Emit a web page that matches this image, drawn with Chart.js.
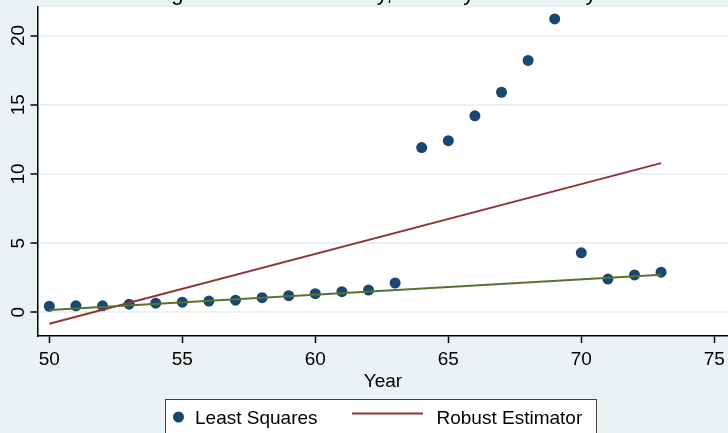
<!DOCTYPE html>
<html>
<head>
<meta charset="utf-8">
<title>Belgian Statistical Survey, Ministry of Economy</title>
<script src="https://cdn.jsdelivr.net/npm/chart.js@4/dist/chart.umd.min.js"></script>
<style>
  html, body { margin: 0; padding: 0; background: #eaf2f3; }
  canvas { display: block; }
</style>
</head>
<body>
<canvas id="c" width="728" height="433"></canvas>
<script>
// International phone calls from Belgium (tens of millions), by year
const years = [50, 51, 52, 53, 54, 55, 56, 57, 58, 59, 60, 61, 62, 63, 64, 65, 66, 67, 68, 69, 70, 71, 72, 73];
const calls = [0.44, 0.47, 0.47, 0.59, 0.66, 0.73, 0.81, 0.88, 1.06, 1.20, 1.35, 1.49, 1.61, 2.12,
               11.90, 12.40, 14.20, 15.90, 18.20, 21.20, 4.30, 2.40, 2.70, 2.90];

// Fitted lines, end points at 1950 and 1973
const fitYears = [50, 73];
const lsFit = [-0.82, 10.78];
const robustFit = [0.17, 2.72];

// Axis ticks
const xTicks = [50, 55, 60, 65, 70, 75];
const yTicks = [0, 5, 10, 15, 20];

const FONT = 'Liberation Sans, Arial, sans-serif';
const BG = '#eaf2f3';

const toPoints = (xs, ys) => xs.map((x, i) => ({ x: x, y: ys[i] }));

// no extra room around the plot for half tick labels
const noScalePadding = s => {
  s.paddingLeft = 0; s.paddingRight = 0; s.paddingTop = 0; s.paddingBottom = 0;
};

const decorations = {
  id: 'decorations',
  beforeDraw(chart) {
    const { ctx, chartArea: a } = chart;
    ctx.save();
    ctx.fillStyle = BG;
    ctx.fillRect(0, 0, chart.width, chart.height);
    ctx.fillStyle = '#ffffff';
    ctx.fillRect(a.left, a.top, chart.width - a.left, a.bottom - a.top);
    ctx.restore();
  },
  afterDraw(chart) {
    const { ctx } = chart;
    const yScale = chart.scales.y;
    ctx.save();
    ctx.fillStyle = '#000';

    // title
    ctx.font = '22px ' + FONT;
    ctx.textAlign = 'center';
    ctx.textBaseline = 'alphabetic';
    ctx.fillText('Belgian Statistical Survey, Ministry of Economy', 368, -0.5);

    // vertical tick labels on the y axis
    ctx.font = '19px ' + FONT;
    yScale.ticks.forEach(t => {
      const py = yScale.getPixelForValue(t.value);
      ctx.save();
      ctx.translate(23.5, py);
      ctx.rotate(-Math.PI / 2);
      ctx.textAlign = 'center';
      ctx.textBaseline = 'alphabetic';
      ctx.fillText(String(t.value), 0, 0);
      ctx.restore();
    });

    // x axis title
    ctx.textAlign = 'center';
    ctx.fillText('Year', 383, 386.5);

    // legend
    ctx.fillStyle = '#ffffff';
    ctx.fillRect(165.5, 399.5, 431, 45);
    ctx.strokeStyle = '#404040';
    ctx.lineWidth = 1;
    ctx.strokeRect(165.5, 399.5, 431, 45);

    ctx.fillStyle = '#1a476f';
    ctx.beginPath();
    ctx.arc(178.5, 417, 5.5, 0, Math.PI * 2);
    ctx.fill();

    ctx.strokeStyle = '#90353b';
    ctx.lineWidth = 2;
    ctx.beginPath();
    ctx.moveTo(352, 413.5);
    ctx.lineTo(423, 413.5);
    ctx.stroke();

    ctx.fillStyle = '#000';
    ctx.textAlign = 'left';
    ctx.fillText('Least Squares', 195, 424);
    ctx.fillText('Robust Estimator', 436.5, 424);
    ctx.restore();
  }
};

new Chart(document.getElementById('c'), {
  type: 'scatter',
  data: {
    datasets: [
      {
        type: 'line',
        label: 'Robust fit',
        data: toPoints(fitYears, robustFit),
        borderColor: '#55752f',
        borderWidth: 2,
        pointRadius: 0,
        fill: false,
        order: 1
      },
      {
        type: 'line',
        label: 'Robust Estimator',
        data: toPoints(fitYears, lsFit),
        borderColor: '#90353b',
        borderWidth: 2,
        pointRadius: 0,
        fill: false,
        order: 2
      },
      {
        label: 'Least Squares',
        data: toPoints(years, calls),
        backgroundColor: '#1a476f',
        borderWidth: 0,
        pointRadius: 5.5,
        pointHoverRadius: 5.5,
        order: 3
      }
    ]
  },
  options: {
    responsive: false,
    animation: false,
    devicePixelRatio: 1,
    layout: { autoPadding: false, padding: { top: 7, left: 0, right: 0, bottom: 0 } },
    plugins: {
      legend: { display: false },
      tooltip: { enabled: false },
      title: { display: false }
    },
    scales: {
      x: {
        type: 'linear',
        min: 49.556,
        max: 75.515,
        afterBuildTicks: s => { s.ticks = xTicks.map(v => ({ value: v })); },
        afterFit: s => { s.height = 97; noScalePadding(s); },
        grid: { drawOnChartArea: false, drawTicks: true, tickLength: 7, tickColor: '#000', tickWidth: 1.5 },
        border: { display: true, color: '#000', width: 1.5 },
        ticks: {
          font: { family: FONT, size: 19 },
          color: '#000',
          padding: 5,
          maxRotation: 0,
          autoSkip: false
        }
      },
      y: {
        type: 'linear',
        min: -1.71,
        max: 22.06,
        afterBuildTicks: s => { s.ticks = yTicks.map(v => ({ value: v })); },
        afterFit: s => { s.width = 37.5; noScalePadding(s); },
        grid: { color: BG, lineWidth: 2, drawTicks: true, tickLength: 7, tickColor: '#000', tickWidth: 1.5 },
        border: { display: true, color: '#000', width: 1.5 },
        ticks: { color: 'rgba(0,0,0,0)', font: { family: FONT, size: 19 }, padding: 0 }
      }
    }
  },
  plugins: [decorations]
});
</script>
</body>
</html>
